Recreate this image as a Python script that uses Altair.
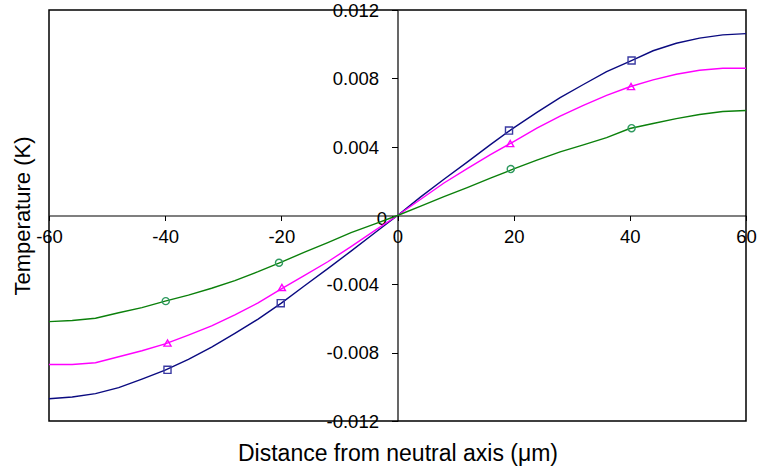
import altair as alt
import pandas as pd

# Distance from the neutral axis (µm) at which each profile is sampled
x_um = [-60, -56, -52, -48, -44, -40, -36, -32, -28, -24, -20, -16, -12, -8, -4,
        0, 4, 8, 12, 16, 20, 24, 28, 32, 36, 40, 44, 48, 52, 56, 60]

# Temperature change (K) for the three profiles
temp_blue = [-0.0107, -0.0106, -0.0104, -0.01005, -0.00955, -0.00903, -0.0084, -0.00768,
             -0.00688, -0.00605, -0.00512, -0.0041, -0.0031, -0.00208, -0.00104,
             0.0, 0.00109, 0.00212, 0.00312, 0.00414, 0.00512, 0.00602, 0.00688,
             0.00765, 0.0084, 0.009, 0.00962, 0.01006, 0.01036, 0.01055, 0.01062]
temp_pink = [-0.0087, -0.0087, -0.0086, -0.00825, -0.0079, -0.0075, -0.00698, -0.00645,
             -0.0058, -0.0051, -0.00428, -0.0035, -0.0027, -0.00182, -0.0009,
             0.0, 0.00095, 0.0019, 0.00274, 0.00356, 0.00432, 0.0051, 0.0058,
             0.00643, 0.00702, 0.00752, 0.00792, 0.00825, 0.00848, 0.0086, 0.0086]
temp_green = [-0.0062, -0.00613, -0.006, -0.00568, -0.00538, -0.005, -0.00465, -0.00425,
              -0.0038, -0.00328, -0.00272, -0.00214, -0.00158, -0.001, -0.0005,
              0.0, 0.00055, 0.0011, 0.00163, 0.00218, 0.00272, 0.00323, 0.00372,
              0.00412, 0.00455, 0.00508, 0.00537, 0.00566, 0.0059, 0.00607, 0.00613]

# Marker positions on each profile
mark_x_blue = [-39.6, -20.1, 19.2, 40.3]
mark_y_blue = [-0.00901, -0.00512, 0.00496, 0.00905]
mark_x_pink = [-39.6, -19.9, 19.4, 40.2]
mark_y_pink = [-0.00745, -0.0042, 0.0042, 0.00753]
mark_x_green = [-39.9, -20.4, 19.5, 40.3]
mark_y_green = [-0.005, -0.00276, 0.00271, 0.0051]

series = ["blue", "pink", "green"]
line_colors = ["#0a0a80", "#ff00ff", "#0b800b"]
marker_colors = ["#3a3aa2", "#ff00ff", "#2f9a60"]
marker_shapes = ["square", "triangle-up", "circle"]

x_ticks = [-60, -40, -20, 0, 20, 40, 60]
y_ticks = [-0.012, -0.008, -0.004, 0, 0.004, 0.008, 0.012]

lines = pd.concat([
    pd.DataFrame({"x": x_um, "t": temp_blue, "s": "blue"}),
    pd.DataFrame({"x": x_um, "t": temp_pink, "s": "pink"}),
    pd.DataFrame({"x": x_um, "t": temp_green, "s": "green"}),
])
markers = pd.concat([
    pd.DataFrame({"x": mark_x_blue, "t": mark_y_blue, "s": "blue"}),
    pd.DataFrame({"x": mark_x_pink, "t": mark_y_pink, "s": "pink"}),
    pd.DataFrame({"x": mark_x_green, "t": mark_y_green, "s": "green"}),
])

W, H = 697, 411
FONT = "Liberation Sans"

x_scale = alt.Scale(domain=[-60, 60], nice=False, zero=False)
y_scale = alt.Scale(domain=[-0.012, 0.012], nice=False, zero=False)

# Outer axes carry only the titles
x_title_axis = alt.Axis(orient="bottom", title="Distance from neutral axis (\u03bcm)",
                        labels=False, ticks=False, domain=False, grid=False,
                        titleFont=FONT, titleFontSize=23, titleFontWeight="normal",
                        titleColor="black", titlePadding=21)
y_title_axis = alt.Axis(orient="left", title="Temperature (K)",
                        labels=False, ticks=False, domain=False, grid=False,
                        titleFont=FONT, titleFontSize=22, titleFontWeight="normal",
                        titleColor="black", titlePadding=15)

# Axes crossing at the origin
x_zero_axis = alt.Axis(orient="bottom", offset=-H / 2, title=None, values=x_ticks,
                       labelExpr="toString(datum.value)", labelFlush=False,
                       labelFont=FONT, labelFontSize=18.5, labelColor="black",
                       labelPadding=7, labelOverlap=False,
                       tickSize=5, tickColor="black", domainColor="black",
                       domainWidth=1.2, grid=False)
y_zero_axis = alt.Axis(orient="left", offset=-W / 2, title=None, values=y_ticks,
                       labelExpr="toString(datum.value)", labelFlush=False,
                       labelFont=FONT, labelFontSize=18.5, labelColor="black",
                       labelPadding={"condition": {"test": "datum.value == 0", "value": 5}, "value": 13},
                       labelOffset={"condition": {"test": "datum.value == 0", "value": 3}, "value": 0},
                       labelOverlap=False,
                       tickSize=6, tickColor="black", domainColor="black",
                       domainWidth=1.2, grid=False)

line_layer = alt.Chart(lines).mark_line(strokeWidth=1.4).encode(
    x=alt.X("x:Q", scale=x_scale, axis=x_title_axis),
    y=alt.Y("t:Q", scale=y_scale, axis=y_title_axis),
    color=alt.Color("s:N", scale=alt.Scale(domain=series, range=line_colors), legend=None),
    detail="s:N",
)

marker_layer = alt.Chart(markers).mark_point(filled=False, strokeWidth=1.4, opacity=1).encode(
    x=alt.X("x:Q", scale=x_scale, axis=x_zero_axis),
    y=alt.Y("t:Q", scale=y_scale, axis=y_zero_axis),
    stroke=alt.Stroke("s:N", scale=alt.Scale(domain=series, range=marker_colors), legend=None),
    shape=alt.Shape("s:N", scale=alt.Scale(domain=series, range=marker_shapes), legend=None),
    size=alt.value(50),
)

chart = alt.layer(line_layer, marker_layer).resolve_axis(
    x="independent", y="independent"
).resolve_scale(
    color="independent", stroke="independent", shape="independent"
).properties(
    width=W, height=H,
    autosize=alt.AutoSizeParams(type="none"),
    padding={"left": 49, "top": 10, "right": 12, "bottom": 48},
    background="white",
).configure_view(
    stroke="black", strokeWidth=1.5
)

chart.save("out.html", embed_options={"renderer": "svg", "actions": False})
